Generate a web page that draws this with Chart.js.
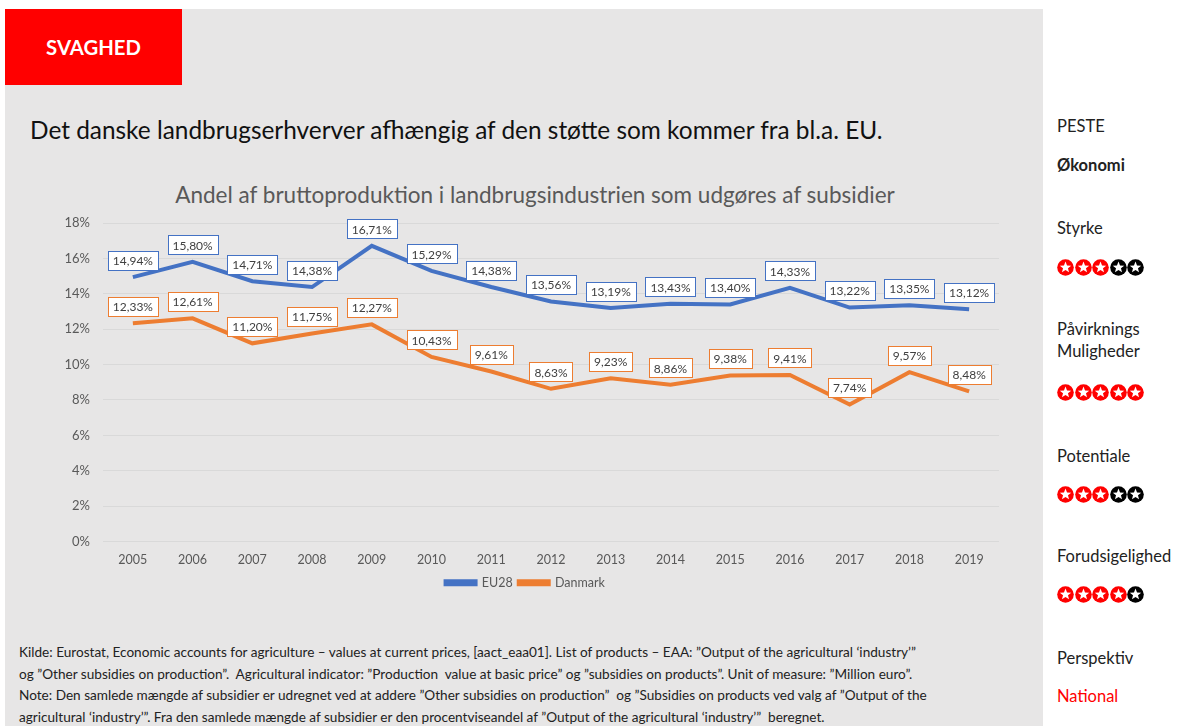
<!DOCTYPE html>
<html lang="da">
<head>
<meta charset="utf-8">
<title>Svaghed - subsidier</title>
<script src="https://cdn.jsdelivr.net/npm/chart.js@4"></script>
<style>
  html, body { margin: 0; padding: 0; background: #fff; }
  body { width: 1182px; height: 726px; position: relative; overflow: hidden; font-family: Lato, "Open Sans", sans-serif; }
  #panel { position: absolute; left: 5px; top: 9px; width: 1038px; height: 717px; background: #e7e6e6; }
  #tag { position: absolute; left: 5px; top: 9px; width: 177px; height: 76px; background: #ff0000; color: #fff;
         font-weight: bold; font-size: 20.3px; display: flex; align-items: center; justify-content: center; }
  #headline { position: absolute; left: 30px; top: 115px; font-size: 24.4px; color: #111; white-space: nowrap; }
  #ctitle { position: absolute; left: 0; width: 1070px; top: 181px; text-align: center; font-size: 22.5px; color: #595959; white-space: nowrap; }
  #wrap { position: absolute; left: 40px; top: 175px; width: 990px; height: 430px; }
  #notes { position: absolute; left: 19px; top: 642px; font-size: 13.6px; color: #222; line-height: 21.7px; }
  #notes div { white-space: pre; }
  #side { position: absolute; left: 1057px; top: 0; font-size: 16.5px; color: #222; }
  #side .t { position: absolute; white-space: nowrap; }
  #side svg { position: absolute; }
</style>
</head>
<body>
<div id="panel"></div>
<div id="tag">SVAGHED</div>
<div id="headline">Det danske landbrugserhverver afhængig af den støtte som kommer fra bl.a. EU.</div>
<div id="ctitle">Andel af bruttoproduktion i landbrugsindustrien som udgøres af subsidier</div>
<div id="wrap"><canvas id="chart"></canvas></div>
<div id="notes">
<div>Kilde: Eurostat, Economic accounts for agriculture – values at current prices, [aact_eaa01]. List of products – EAA: ”Output of the agricultural ‘industry’”</div>
<div>og ”Other subsidies on production”.  Agricultural indicator: ”Production  value at basic price” og ”subsidies on products”. Unit of measure: ”Million euro”.</div>
<div>Note: Den samlede mængde af subsidier er udregnet ved at addere ”Other subsidies on production”  og ”Subsidies on products ved valg af ”Output of the</div>
<div>agricultural ‘industry’”. Fra den samlede mængde af subsidier er den procentviseandel af ”Output of the agricultural ‘industry’”  beregnet.</div>
</div>
<div id="side"></div>
<script>
const years = ['2005', '2006', '2007', '2008', '2009', '2010', '2011', '2012', '2013', '2014', '2015', '2016', '2017', '2018', '2019'];
const eu28 = [14.94, 15.80, 14.71, 14.38, 16.71, 15.29, 14.38, 13.56, 13.19, 13.43, 13.40, 14.33, 13.22, 13.35, 13.12];
const danmark = [12.33, 12.61, 11.20, 11.75, 12.27, 10.43, 9.61, 8.63, 9.23, 8.86, 9.38, 9.41, 7.74, 9.57, 8.48];
const yTicks = [0, 2, 4, 6, 8, 10, 12, 14, 16, 18];

// side panel rows: text or a row of 5 rating stars
const sideItems = [
  { text: 'PESTE', y: 116 },
  { text: 'Økonomi', y: 155, bold: true },
  { text: 'Styrke', y: 218 },
  { stars: 3, y: 259 },
  { text: 'Påvirknings', y: 319 },
  { text: 'Muligheder', y: 341 },
  { stars: 5, y: 384 },
  { text: 'Potentiale', y: 446 },
  { stars: 3, y: 486 },
  { text: 'Forudsigelighed', y: 546 },
  { stars: 4, y: 586 },
  { text: 'Perspektiv', y: 648 },
  { text: 'National', y: 686, red: true },
];

const fmtPct = v => v.toFixed(2).replace('.', ',') + '%';

function starSvg(filled) {
  const pts = [];
  for (let i = 0; i < 10; i++) {
    const r = i % 2 ? 2.6 : 6;
    const a = -Math.PI / 2 + i * Math.PI / 5;
    pts.push((8.5 + r * Math.cos(a)).toFixed(2) + ',' + (8.5 + r * Math.sin(a)).toFixed(2));
  }
  const fill = filled ? '#ff0000' : '#000';
  return `<circle cx="8.5" cy="8.5" r="8.3" fill="${fill}"/><polygon points="${pts.join(' ')}" fill="#fff"/>`;
}

const side = document.getElementById('side');
sideItems.forEach(it => {
  if (it.stars !== undefined) {
    for (let i = 0; i < 5; i++) {
      const s = document.createElementNS('http://www.w3.org/2000/svg', 'svg');
      s.setAttribute('width', 17); s.setAttribute('height', 17);
      s.style.left = (i * 17.5) + 'px';
      s.style.top = it.y + 'px';
      s.innerHTML = starSvg(i < it.stars);
      side.appendChild(s);
    }
  } else {
    const d = document.createElement('div');
    d.className = 't';
    d.textContent = it.text;
    d.style.top = it.y + 'px';
    if (it.bold) d.style.fontWeight = 'bold';
    if (it.red) d.style.color = '#ff0000';
    side.appendChild(d);
  }
});

// boxed value labels above each point
const boxLabels = {
  id: 'boxLabels',
  afterDatasetsDraw(chart) {
    const ctx = chart.ctx;
    ctx.save();
    ctx.font = '12px Lato, "Open Sans", sans-serif';
    ctx.textAlign = 'center';
    ctx.textBaseline = 'middle';
    chart.data.datasets.forEach((ds, di) => {
      const meta = chart.getDatasetMeta(di);
      meta.data.forEach((pt, i) => {
        const txt = fmtPct(ds.data[i]);
        const w = Math.round(ctx.measureText(txt).width + 10);
        const h = 19;
        const cx = pt.x, cy = pt.y - 17;
        const x0 = Math.round(cx - w / 2), y0 = Math.round(cy - h / 2);
        ctx.fillStyle = '#fff';
        ctx.fillRect(x0, y0, w, h);
        ctx.strokeStyle = ds.borderColor;
        ctx.lineWidth = 1;
        ctx.strokeRect(x0 + 0.5, y0 + 0.5, w, h);
        ctx.fillStyle = '#404040';
        ctx.fillText(txt, cx, cy + 1);
      });
    });
    ctx.restore();
  }
};

new Chart(document.getElementById('chart'), {
  type: 'line',
  data: {
    labels: years,
    datasets: [
      { label: 'EU28', data: eu28, borderColor: '#4472c4', borderWidth: 4, pointRadius: 0, tension: 0 },
      { label: 'Danmark', data: danmark, borderColor: '#ed7d31', borderWidth: 4, pointRadius: 0, tension: 0 },
    ]
  },
  options: {
    responsive: true,
    maintainAspectRatio: false,
    animation: false,
    layout: { padding: { left: 11.5, right: 31, top: 48, bottom: 6 } },
    scales: {
      x: {
        offset: true,
        grid: { display: false },
        border: { display: false },
        ticks: { color: '#595959', font: { size: 12.5, family: 'Lato' }, padding: 3 }
      },
      y: {
        min: 0, max: 18,
        afterBuildTicks: axis => { axis.ticks = yTicks.map(v => ({ value: v })); },
        grid: { color: '#d9d9d9', drawTicks: false },
        border: { display: false },
        ticks: { color: '#595959', font: { size: 13, family: 'Lato' }, padding: 13, callback: v => v + '%' }
      }
    },
    plugins: {
      legend: { position: 'bottom', labels: { color: '#595959', boxWidth: 30, boxHeight: 3, font: { size: 12.5, family: 'Lato' }, padding: 6 } },
      tooltip: { enabled: false }
    }
  },
  plugins: [boxLabels]
});
</script>
</body>
</html>
